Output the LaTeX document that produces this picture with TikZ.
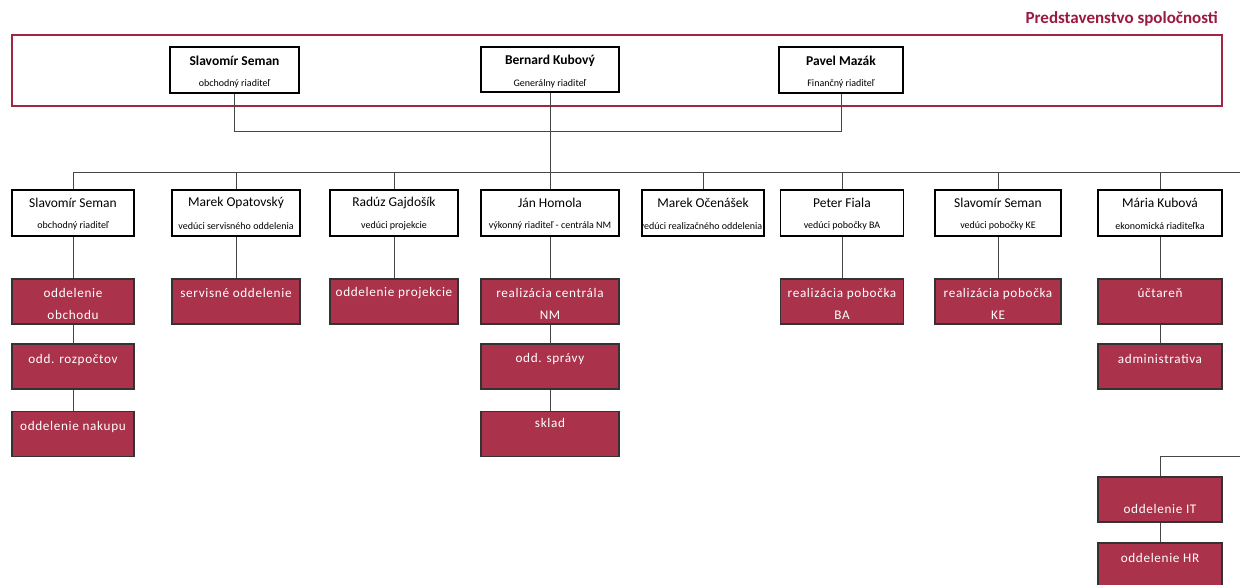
\documentclass[tikz,border=0pt]{standalone}
\usepackage{fontspec}
\setmainfont{Carlito}
\newfontfamily\spc[LetterSpace=5]{Carlito}
\definecolor{boxred}{RGB}{170,50,74}
\definecolor{framered}{RGB}{160,38,68}
\definecolor{titlered}{RGB}{155,25,65}
\definecolor{linegray}{RGB}{70,70,70}
\begin{document}
\begin{tikzpicture}[x=1pt,y=-1pt,
  wbox/.style={draw=black,line width=1.4pt,fill=white,minimum height=46pt,inner sep=0pt},
  rbox/.style={draw=black!80,line width=1.4pt,fill=boxred,minimum height=45pt,inner sep=0pt},
  rtxt/.style={text=white,font=\spc\fontsize{13.2}{22}\selectfont,align=center,inner sep=0pt},
  nm/.style={font=\fontsize{13.5}{15}\selectfont,inner sep=0pt},
  bnm/.style={font=\bfseries\fontsize{13.5}{15}\selectfont,inner sep=0pt},
  sub/.style={font=\fontsize{10}{11}\selectfont,inner sep=0pt},
  conn/.style={draw=linegray,line width=1pt}]
\clip (0,0) rectangle (1240,584);

% title and board frame
\node[anchor=east,font=\bfseries\fontsize{17}{20}\selectfont,text=titlered,inner sep=0pt] (title) at (1218,19) {Predstavenstvo spoločnosti};
\draw[draw=framered,line width=2.6pt] (12,35) rectangle (1222,106);

% board members
\node[wbox,minimum width=129pt] (t1) at (234.5,70) {};
\node[bnm] (t1n) at (234.5,61) {Slavomír Seman};
\node[sub] (t1s) at (234.5,84) {obchodný riaditeľ};
\node[wbox,minimum width=138pt,minimum height=45pt] (t2) at (550,69.5) {};
\node[bnm] (t2n) at (550,61) {Bernard Kubový};
\node[sub] (t2s) at (550,84) {Generálny riaditeľ};
\node[wbox,minimum width=124pt] (t3) at (841,70) {};
\node[bnm] (t3n) at (841,61) {Pavel Mazák};
\node[sub] (t3s) at (841,84) {Finančný riaditeľ};

% second row
\node[wbox,minimum width=122pt] (m1) at (73,213) {};
\node[nm] (m1n) at (73,203) {Slavomír Seman};
\node[sub] (m1s) at (73,226) {obchodný riaditeľ};
\node[wbox,minimum width=128pt] (m2) at (236,213) {};
\node[nm] (m2n) at (236,203) {Marek Opatovský};
\node[sub] (m2s) at (236,226) {vedúci servisného oddelenia};
\node[wbox,minimum width=128pt] (m3) at (394,213) {};
\node[nm] (m3n) at (394,203) {Radúz Gajdošík};
\node[sub] (m3s) at (394,226) {vedúci projekcie};
\node[wbox,minimum width=138pt] (m4) at (550,213) {};
\node[nm] (m4n) at (550,203) {Ján Homola};
\node[sub] (m4s) at (550,226) {výkonný riaditeľ - centrála NM};
\node[wbox,minimum width=122pt] (m5) at (703,213) {};
\node[nm] (m5n) at (703,203) {Marek Očenášek};
\begin{scope}
\clip (m5.south west) rectangle (m5.north east);
\node[sub] (m5s) at (701,226) {vedúci realizačného oddelenia};
\end{scope}
\node[wbox,minimum width=123pt] (m6) at (842,213) {};
\node[nm] (m6n) at (842,203) {Peter Fiala};
\node[sub] (m6s) at (842,226) {vedúci pobočky BA};
\node[wbox,minimum width=126pt] (m7) at (998,213) {};
\node[nm] (m7n) at (998,203) {Slavomír Seman};
\node[sub] (m7s) at (998,226) {vedúci pobočky KE};
\node[wbox,minimum width=124pt] (m8) at (1160,213) {};
\node[nm] (m8n) at (1160,203) {Mária Kubová};
\node[sub] (m8s) at (1160,226) {ekonomická riaditeľka};

% departments
\node[rbox,minimum width=122pt] (r1a) at (73,301.5) {};
\node[rtxt] (r1at) at (73,304) {oddelenie\\obchodu};
\node[rbox,minimum width=122pt] (r1b) at (73,366.5) {};
\node[rtxt] (r1bt) at (73,360) {odd. rozpočtov};
\node[rbox,minimum width=122pt] (r1c) at (73,434) {};
\node[rtxt] (r1ct) at (73,427) {oddelenie nakupu};
\node[rbox,minimum width=128pt] (r2) at (236,301.5) {};
\node[rtxt] (r2t) at (236,293) {servisné oddelenie};
\node[rbox,minimum width=128pt] (r3) at (394,301.5) {};
\node[rtxt] (r3t) at (394,293) {oddelenie projekcie};
\node[rbox,minimum width=138pt] (r4a) at (550,301.5) {};
\node[rtxt] (r4at) at (550,304) {realizácia centrála\\NM};
\node[rbox,minimum width=138pt] (r4b) at (550,366.5) {};
\node[rtxt] (r4bt) at (550,359) {odd. správy};
\node[rbox,minimum width=138pt] (r4c) at (550,434) {};
\node[rtxt] (r4ct) at (550,423) {sklad};
\node[rbox,minimum width=123pt] (r6) at (842,301.5) {};
\node[rtxt] (r6t) at (842,304) {realizácia pobočka\\BA};
\node[rbox,minimum width=126pt] (r7) at (998,301.5) {};
\node[rtxt] (r7t) at (998,304) {realizácia pobočka\\KE};
\node[rbox,minimum width=124pt] (r8a) at (1160,301.5) {};
\node[rtxt] (r8at) at (1160,293) {účtareň};
\node[rbox,minimum width=124pt] (r8b) at (1160,366.5) {};
\node[rtxt] (r8bt) at (1160,359) {administrativa};
\node[rbox,minimum width=124pt] (rit) at (1160,499.5) {};
\node[rtxt] (ritt) at (1160,509) {oddelenie IT};
\node[rbox,minimum width=124pt] (rhr) at (1160,565.5) {};
\node[rtxt] (rhrt) at (1160,558) {oddelenie HR};

% connectors
\coordinate (j1) at (234.5,131);
\draw[conn] (t1.south) -- (j1) -| (t3.south);
\draw[conn] (t2.south) -- (m4.north);
\coordinate (hl) at (73,172);
\coordinate (hr) at (1240,172);
\draw[conn] (hl) -- (hr);
\foreach \m in {m1,m2,m3,m5,m6,m7,m8}{
  \draw[conn] (\m.north) -- (\m.north |- hl);
}
\draw[conn] (m1.south) -- (r1a.north);
\draw[conn] (r1a.south) -- (r1b.north);
\draw[conn] (r1b.south) -- (r1c.north);
\draw[conn] (m2.south) -- (r2.north);
\draw[conn] (m3.south) -- (r3.north);
\draw[conn] (m4.south) -- (r4a.north);
\draw[conn] (r4a.south) -- (r4b.north);
\draw[conn] (r4b.south) -- (r4c.north);
\draw[conn] (m6.south) -- (r6.north);
\draw[conn] (m7.south) -- (r7.north);
\draw[conn] (m8.south) -- (r8a.north);
\draw[conn] (r8a.south) -- (r8b.north);
\coordinate (bre) at (1240,456);
\draw[conn] (bre) -| (rit.north);
\draw[conn] (rit.south) -- (rhr.north);
\end{tikzpicture}
\end{document}
